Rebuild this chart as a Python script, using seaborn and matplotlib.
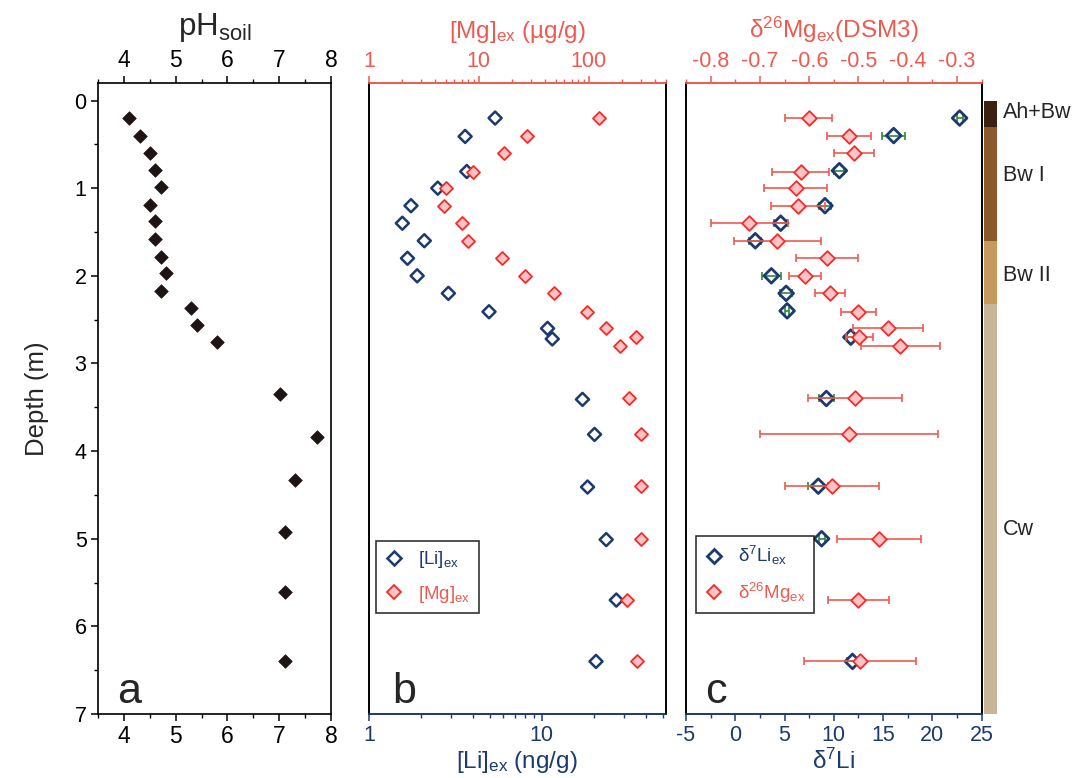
import numpy as np
import matplotlib
matplotlib.use("Agg")
import matplotlib.pyplot as plt
import matplotlib.transforms as mtrans
import seaborn as sns
from matplotlib.lines import Line2D
from matplotlib.ticker import MultipleLocator, LogLocator, NullFormatter, FuncFormatter, NullLocator

# ---------------- data ----------------
ph_depth = [0.20, 0.40, 0.60, 0.79, 0.99, 1.19, 1.38, 1.58, 1.78, 1.97, 2.17, 2.37, 2.56, 2.76,
            3.35, 3.84, 4.33, 4.92, 5.61, 6.40]
ph_value = [4.10, 4.31, 4.51, 4.60, 4.71, 4.51, 4.60, 4.60, 4.71, 4.81, 4.71, 5.30, 5.42, 5.80,
            7.01, 7.72, 7.31, 7.10, 7.10, 7.10]

li_depth = [0.20, 0.41, 0.81, 1.00, 1.20, 1.40, 1.60, 1.80, 2.00, 2.20, 2.41, 2.60, 2.72,
            3.41, 3.81, 4.41, 5.01, 5.70, 6.40]
li_conc = [5.37, 3.60, 3.68, 2.50, 1.75, 1.56, 2.09, 1.67, 1.90, 2.88, 4.95, 10.8, 11.5,
           17.2, 20.2, 18.4, 23.6, 27.0, 20.6]

mg_depth = [0.20, 0.41, 0.60, 0.81, 1.00, 1.20, 1.40, 1.60, 1.80, 2.00, 2.20, 2.41, 2.60, 2.70, 2.80,
            3.40, 3.80, 4.40, 5.00, 5.70, 6.40]
mg_conc = [125, 27.4, 16.8, 8.93, 5.03, 4.80, 7.09, 7.94, 16.4, 26.4, 47.9, 95.7, 144, 270, 194,
           234, 302, 302, 302, 223, 276]

d7li_depth = [0.20, 0.40, 0.80, 1.20, 1.40, 1.60, 2.00, 2.20, 2.40, 2.70, 3.40, 4.40, 5.00, 6.40]
d7li = [22.76, 16.07, 10.56, 9.10, 4.61, 2.03, 3.66, 5.16, 5.26, 11.72, 9.24, 8.42, 8.76, 11.89]
d7li_err = [0.3, 1.16, 0.5, 0.6, 0.68, 0.6, 0.97, 0.6, 0.2, 0.4, 0.78, 1.02, 0.3, 0.6]

d26mg_depth = [0.20, 0.41, 0.60, 0.81, 1.00, 1.20, 1.40, 1.60, 1.80, 2.00, 2.20, 2.41, 2.60, 2.70, 2.80,
               3.40, 3.80, 4.40, 5.00, 5.70, 6.40]
d26mg = [-0.601, -0.519, -0.509, -0.617, -0.627, -0.623, -0.722, -0.665, -0.564, -0.609, -0.558,
         -0.500, -0.440, -0.498, -0.415, -0.507, -0.519, -0.554, -0.458, -0.500, -0.497]
d26mg_err = [0.048, 0.044, 0.040, 0.058, 0.064, 0.055, 0.078, 0.088, 0.062, 0.033, 0.030,
             0.035, 0.071, 0.027, 0.080, 0.095, 0.180, 0.095, 0.085, 0.062, 0.114]

strata_names = ["Ah+Bw", "Bw I", "Bw II", "Cw"]
strata_top = [0.0, 0.30, 1.60, 2.32]
strata_bottom = [0.30, 1.60, 2.32, 7.0]
strata_label_depth = [0.14, 0.86, 2.0, 4.89]
strata_colors = ["#3c2011", "#8a5a2d", "#c59a5f", "#c8b597"]

# ---------------- style ----------------
sns.set_style("ticks")
plt.rcParams["font.family"] = ["Liberation Sans", "DejaVu Sans"]
plt.rcParams["mathtext.fontset"] = "custom"
plt.rcParams["mathtext.rm"] = "Liberation Sans"
plt.rcParams["mathtext.it"] = "Liberation Sans:italic"
plt.rcParams["mathtext.bf"] = "Liberation Sans:bold"
plt.rcParams["axes.unicode_minus"] = False

NAVY = "#1b3a6d"
RED = "#ee5a50"
MK_RED = "#f52a2a"
PINK = "#fbc3c3"
GREEN = "#2e8a38"
BLACK = "#1e1414"
TICK_FS = 15.5
LAB_FS = 17.5

W, H = 1072, 778
fig = plt.figure(figsize=(W / 100, H / 100), dpi=100)


def rect(l, r, t, b):
    return [l / W, 1 - b / H, (r - l) / W, (b - t) / H]


axA = fig.add_axes(rect(97.7, 331.3, 83, 714))
axB = fig.add_axes(rect(369, 665.5, 83, 714))
axC = fig.add_axes(rect(686, 981.7, 83, 714))
axS = fig.add_axes(rect(984, 997, 83, 714))

YLIM = (7, -0.2)

def base_ticks(ax, color, axis="x", fs=TICK_FS):
    ax.tick_params(axis=axis, which="major", direction="out", length=5, width=1.1,
                   colors=color, labelsize=fs, labelcolor=color, pad=3)
    ax.tick_params(axis=axis, which="minor", direction="out", length=3, width=1.0, colors=color)

# ---------------- panel a ----------------
sns.scatterplot(x=ph_value, y=ph_depth, ax=axA, marker="D", s=48, color=BLACK,
                edgecolor=BLACK, linewidth=0.5, zorder=3)
axA.set_xlim(3.5, 8)
axA.set_ylim(*YLIM)
axA.xaxis.set_major_locator(MultipleLocator(1))
axA.xaxis.set_minor_locator(MultipleLocator(0.5))
axA.yaxis.set_major_locator(MultipleLocator(1))
axA.yaxis.set_minor_locator(MultipleLocator(0.5))
base_ticks(axA, "black", "x", 16.5)
base_ticks(axA, "black", "y", 15.5)
axA.tick_params(axis="x", which="both", top=True, labeltop=True, bottom=True, labelbottom=True)
axA.tick_params(axis="y", which="both", left=True, right=False)
axA.xaxis.set_label_position("top")
axA.set_xlabel(r"pH$_{\mathrm{soil}}$", fontsize=22.5, labelpad=10)
axA.set_ylabel("Depth (m)", fontsize=18.5, labelpad=18)
for sp in axA.spines.values():
    sp.set_color("black"); sp.set_linewidth(1.2)
axA.text(0.085, 0.018, "a", transform=axA.transAxes, fontsize=31, ha="left", va="baseline")

# ---------------- panel b ----------------
axB.set_xscale("log")
axB2 = axB.twiny()
axB2.set_xscale("log")
sns.scatterplot(x=mg_conc, y=mg_depth, ax=axB2, marker="D", s=44, color=PINK,
                edgecolor=MK_RED, linewidth=1.3, zorder=3)
sns.scatterplot(x=li_conc, y=li_depth, ax=axB, marker="D", s=44, color="none",
                edgecolor=NAVY, linewidth=1.8, zorder=4)
axB.set_xlim(1, 52)
axB2.set_xlim(1, 500)
axB.set_ylim(*YLIM)
fmt = FuncFormatter(lambda v, p: f"{v:g}")
for ax, col in ((axB, NAVY), (axB2, RED)):
    ax.xaxis.set_major_locator(LogLocator(base=10, numticks=10))
    ax.xaxis.set_minor_locator(LogLocator(base=10, subs=np.arange(2, 10), numticks=20))
    ax.xaxis.set_major_formatter(fmt)
    ax.xaxis.set_minor_formatter(NullFormatter())
    base_ticks(ax, col, "x")
axB.yaxis.set_major_locator(NullLocator())
axB.yaxis.set_minor_locator(NullLocator())
axB.set_ylabel("")
axB2.set_ylabel("")
axB.set_xlabel(r"[Li]$_{\mathrm{ex}}$ (ng/g)", fontsize=LAB_FS, color=NAVY, labelpad=2)
axB2.set_xlabel(r"[Mg]$_{\mathrm{ex}}$ (µg/g)", fontsize=LAB_FS, color=RED, labelpad=9)
for ax in (axB, axB2):
    ax.spines["left"].set_color("black"); ax.spines["right"].set_color("black")
    ax.spines["top"].set_color(RED); ax.spines["bottom"].set_color(NAVY)
    for sp in ax.spines.values():
        sp.set_linewidth(1.2)
axB.text(0.078, 0.018, "b", transform=axB.transAxes, fontsize=31, ha="left", va="baseline")

hB = [Line2D([], [], marker="D", ls="none", markerfacecolor="none", markeredgecolor=NAVY,
             markeredgewidth=1.8, markersize=7),
      Line2D([], [], marker="D", ls="none", markerfacecolor=PINK, markeredgecolor=MK_RED,
             markeredgewidth=1.3, markersize=7)]
legB = axB2.legend(hB, [r"[Li]$_{\mathrm{ex}}$", r"[Mg]$_{\mathrm{ex}}$"], loc="lower left",
                   bbox_to_anchor=(0.024, 0.16), borderaxespad=0, frameon=True, fancybox=False,
                   edgecolor="black", fontsize=13.5, handlelength=1.0, handletextpad=0.8,
                   labelspacing=0.7, borderpad=0.45)
legB.get_frame().set_linewidth(1.2)
for t, c in zip(legB.get_texts(), [NAVY, RED]):
    t.set_color(c)

# ---------------- panel c ----------------
axC2 = axC.twiny()
axC.errorbar(d7li, d7li_depth, xerr=d7li_err, fmt="none", ecolor=GREEN, elinewidth=1.2,
             capsize=3, capthick=1.2, zorder=2)
axC2.errorbar(d26mg, d26mg_depth, xerr=d26mg_err, fmt="none", ecolor=RED, elinewidth=1.2,
              capsize=3, capthick=1.2, zorder=2)
sns.scatterplot(x=d26mg, y=d26mg_depth, ax=axC2, marker="D", s=56, color=PINK,
                edgecolor=MK_RED, linewidth=1.3, zorder=3)
sns.scatterplot(x=d7li, y=d7li_depth, ax=axC, marker="D", s=56, color="none",
                edgecolor=NAVY, linewidth=2.0, zorder=4)
axC.set_xlim(-5, 25)
axC2.set_xlim(-0.85, -0.25)
axC.set_ylim(*YLIM)
axC.xaxis.set_major_locator(MultipleLocator(5))
axC.xaxis.set_minor_locator(MultipleLocator(2.5))
axC2.xaxis.set_major_locator(MultipleLocator(0.1))
axC2.xaxis.set_minor_locator(MultipleLocator(0.05))
axC2.xaxis.set_major_formatter(FuncFormatter(lambda v, p: f"{v:.1f}"))
base_ticks(axC, NAVY, "x")
base_ticks(axC2, RED, "x")
axC.yaxis.set_major_locator(NullLocator())
axC.yaxis.set_minor_locator(NullLocator())
axC.set_ylabel("")
axC2.set_ylabel("")
axC.set_xlabel(r"δ$^{7}$Li", fontsize=LAB_FS, color=NAVY, labelpad=2)
axC2.set_xlabel(r"δ$^{26}$Mg$_{\mathrm{ex}}$(DSM3)", fontsize=LAB_FS, color=RED, labelpad=9)
for ax in (axC, axC2):
    ax.spines["left"].set_color("black"); ax.spines["right"].set_color("black")
    ax.spines["top"].set_color(RED); ax.spines["bottom"].set_color(NAVY)
    for sp in ax.spines.values():
        sp.set_linewidth(1.2)
axC.text(0.064, 0.018, "c", transform=axC.transAxes, fontsize=31, ha="left", va="baseline")

hC = [Line2D([], [], marker="D", ls="none", markerfacecolor="none", markeredgecolor=NAVY,
             markeredgewidth=2.0, markersize=7.5),
      Line2D([], [], marker="D", ls="none", markerfacecolor=PINK, markeredgecolor=MK_RED,
             markeredgewidth=1.3, markersize=7.5)]
legC = axC2.legend(hC, [r"δ$^{7}$Li$_{\mathrm{ex}}$", r"δ$^{26}$Mg$_{\mathrm{ex}}$"], loc="lower left",
                   bbox_to_anchor=(0.034, 0.16), borderaxespad=0, frameon=True, fancybox=False,
                   edgecolor="black", fontsize=13.5, handlelength=1.0, handletextpad=0.8,
                   labelspacing=0.7, borderpad=0.45)
legC.get_frame().set_linewidth(1.2)
for t, c in zip(legC.get_texts(), [NAVY, RED]):
    t.set_color(c)

# ---------------- strata bar ----------------
heights = [b - t for t, b in zip(strata_top, strata_bottom)]
axS.bar(x=[0] * len(strata_names), height=heights, bottom=strata_top, width=1.0,
        color=strata_colors, linewidth=0)
axS.set_xlim(-0.5, 0.5)
axS.set_ylim(*YLIM)
axS.axis("off")
tr = mtrans.blended_transform_factory(axS.transAxes, axS.transData)
for name, d in zip(strata_names, strata_label_depth):
    axS.text(1.45, d, name, transform=tr, fontsize=15.5, ha="left", va="center", clip_on=False)

fig.savefig("out.png", dpi=100)
